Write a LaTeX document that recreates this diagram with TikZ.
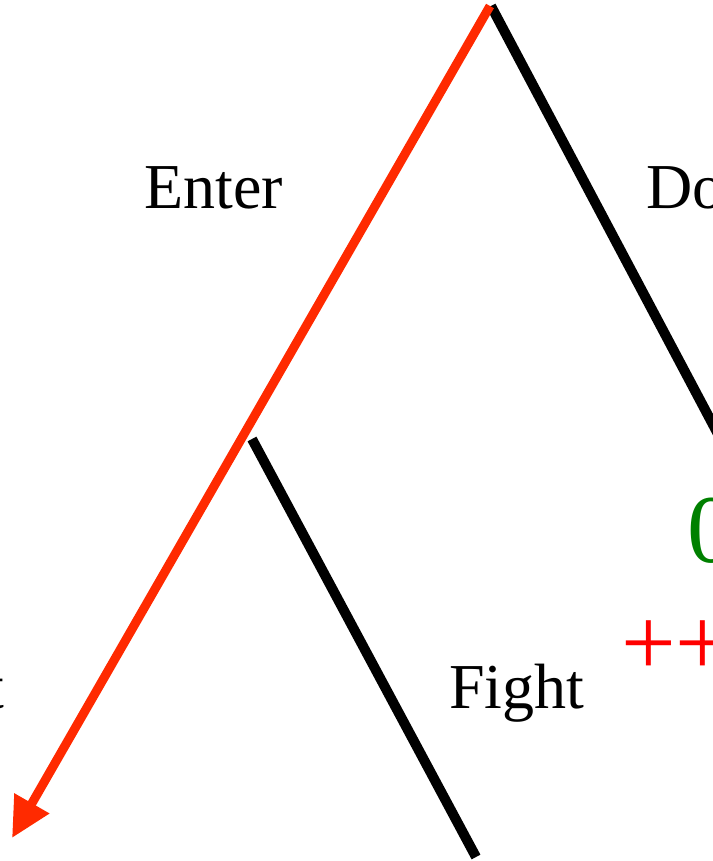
\documentclass[tikz,border=0pt]{standalone}
\usepackage{fontspec}
\setmainfont{Liberation Serif}
\usetikzlibrary{arrows.meta}
\definecolor{pathred}{RGB}{255,42,0}
\definecolor{payred}{RGB}{255,0,0}
\definecolor{paygreen}{RGB}{0,128,0}
\tikzset{
  branch/.style={line width=10bp, black, line cap=butt},
  eqpath/.style={line width=9bp, pathred, line cap=butt,
    -{Triangle[length=40bp,width=38bp]}},
  lbl/.style={anchor=base west, inner sep=0pt, font=\fontsize{64bp}{70bp}\selectfont},
  bigpay/.style={anchor=base west, inner sep=0pt, font=\fontsize{97bp}{100bp}\selectfont},
}
\begin{document}
\begin{tikzpicture}[x=1bp,y=-1bp]
\useasboundingbox (0,0) rectangle (713,861);
% nodes of the tree
\coordinate (root) at (490,6);
\coordinate (rootb) at (491,6);
\coordinate (rightleaf) at (745,485);
\coordinate (inc) at (252,439);
\coordinate (fightleaf) at (476,857);
\coordinate (leftleaf) at (12,838);
% branches
\draw[branch] (rootb) -- (rightleaf);
\draw[branch] (inc) -- (fightleaf);
\draw[eqpath] (root) -- (leftleaf);
% labels
\node[lbl] (enter) at (144,208) {Enter};
\node[lbl] (dont) at (646,208) {Don't enter};
\node[lbl] (fight) at (449,708) {Fight};
\node[lbl, anchor=base east] (acc) at (5,708) {Don't fight};
\node[bigpay, text=paygreen] (pz) at (687,562) {0};
\node[bigpay, text=payred] (pp) at (621,675) {++};
\end{tikzpicture}
\end{document}
